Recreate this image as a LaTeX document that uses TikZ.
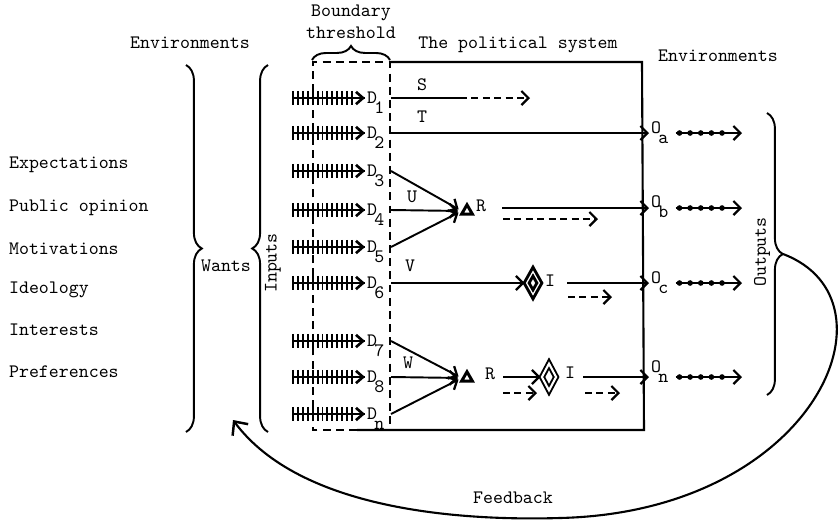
\documentclass[tikz,border=0pt]{standalone}
\usetikzlibrary{arrows.meta, decorations.pathreplacing, decorations.markings, shapes.geometric, positioning}

\newcommand{\lowsub}[2]{#1\kern-1.5pt\raisebox{-1.25ex}{#2}}

\begin{document}
\begin{tikzpicture}[x=0.02cm, y=-0.02cm,
  txt/.style={font=\ttfamily\fontsize{10.8}{12.5}\selectfont, inner sep=1pt},
  arr/.style={line width=1.1pt, -{Straight Barb[length=4pt, width=8pt, line width=1.3pt]}},
  darr/.style={arr, dash pattern=on 4pt off 2.5pt},
  hatched/.style={line width=1.5pt, -{Straight Barb[length=4pt, width=7pt, line width=1.5pt]},
    postaction={draw, arrows=-, line width=1.1pt, decorate,
      decoration={ticks, segment length=2.8pt, amplitude=4pt, post length=5pt}}},
  beads/.style={arr, postaction={decorate, decoration={markings,
    mark=between positions 0.06 and 0.72 step 0.16 with {\fill circle (1.6pt);}}}},
  curly/.style={line width=1.1pt, decorate, decoration={brace, amplitude=9pt}},
  bound/.style={line width=1.1pt, dash pattern=on 4.5pt off 3pt},
  tri/.style={regular polygon, regular polygon sides=3, draw, line width=1.7pt,
    minimum size=0.25cm, inner sep=0pt},
  idia/.style={diamond, draw, line width=1.1pt, double, double distance=1.2pt,
    inner sep=0pt, minimum width=0.3cm, minimum height=0.55cm}]
\useasboundingbox (0,0) rectangle (840,522);
% headings
\node[txt] (envl) at (190,43) {Environments};
\node[txt, align=center] (bthr) at (351,22) {Boundary\\threshold};
\node[txt] (polsys) at (518,45) {The political system};
\node[txt] (envr) at (718,56) {Environments};
% wants
\foreach \w/\y in {Expectations/165, Public opinion/208, Motivations/249,
  Ideology/290, Interests/330, Preferences/372}
  \node[txt, anchor=west] (want\y) at (7,\y) {\w};
\draw[curly] (186,65) -- (186,432);
\node[txt, anchor=west] (wants) at (199,266) {Wants};
\draw[curly] (268,432) -- (268,65);
\node[txt, rotate=90] (inputs) at (273,263) {Inputs};
% boundary and system
\draw[curly, decoration={amplitude=8pt}] (312,60) -- (390,60);
\draw[bound] (357,430) -- (313,430) -- (313,62) -- (390,62) -- (390,430);
\draw[line width=1.2pt] (390,62) -- (642,62) -- (644,430) -- (357,430);
% demands
\foreach \n/\y in {1/98, 2/133, 3/171, 4/210, 5/247, 6/283, 7/341, 8/377, n/414} {
  \node[txt, anchor=base west] (d\n) at (365,\y+5) {\lowsub{D}{\n}};
  \coordinate (h\n) at (293,\y);
  \coordinate (b\n) at (391,\y);
  \draw[hatched] (h\n) -- (h\n -| d\n.west);
}
% outputs
\node[txt, anchor=base west] (oa) at (649,133) {\lowsub{O}{a}};
\node[txt, anchor=base west] (ob) at (649,207) {\lowsub{O}{b}};
\node[txt, anchor=base west] (oc) at (649,283) {\lowsub{O}{c}};
\node[txt, anchor=base west] (on) at (649,372) {\lowsub{O}{n}};
\coordinate (ea) at (742,133);
\coordinate (eb) at (742,208);
\coordinate (ec) at (742,283);
\coordinate (en) at (742,377);
\draw[beads] (oa.base east) ++(5,0) -- (ea);
\draw[beads] (ob.base east) ++(5,1) -- (eb);
\draw[beads] (oc.base east) ++(5,0) -- (ec);
\draw[beads] (on.base east) ++(5,5) -- (en);
\draw[curly] (767,113) -- (767,395);
\node[txt, rotate=90] (outputs) at (762,252) {Outputs};
% S and T
\node[txt] (s) at (422,85) {S};
\coordinate (s1) at (460,98);
\coordinate (s2) at (530,98);
\draw[line width=1.1pt] (b1) -- (s1);
\draw[darr] (s1) -- (s2);
\node[txt] (t) at (422,117) {T};
\draw[arr] (b2) -- (b2 -| oa.west);
% U
\node[tri] (tri1) at (467,211) {};
\node[txt] (r1) at (481,206) {R};
\node[txt] (u) at (412,197) {U};
\foreach \k in {3,4,5}
  \draw[arr, shorten >=2pt] (b\k) -- (tri1.west);
\draw[arr, shorten <=0.28cm] (r1.east |- eb) -- (eb -| ob.west);
\draw[darr] (503,219) -- (598,219);
% V
\node[txt] (v) at (410,266) {V};
\node[idia, line width=1.7pt, double distance=0.7pt, minimum width=0.28cm,
  minimum height=0.48cm] (dia1) at (533,283) {};
\node[txt] (i1) at (550,281) {I};
\draw[arr] (b6) -- (dia1.west);
\draw[arr, shorten <=0.2cm] (i1.east |- oc.base) -- (oc.base west);
\draw[darr] (568,297) -- (612,297);
% W
\node[txt] (w) at (408,363) {W};
\node[tri] (tri2) at (467,378) {};
\node[txt] (r2) at (490,374) {R};
\foreach \k in {7,8,n}
  \draw[arr, shorten >=2pt] (b\k) -- (tri2.west);
\node[idia] (dia2) at (549,377) {};
\draw[arr] (r2.east |- dia2) ++(6,0) -- (dia2.west);
\draw[darr] (503,393) -- (537,393);
\node[txt] (i2) at (570,373) {I};
\draw[arr] (i2.east |- dia2) ++(6,0) -- (en -| on.west);
\draw[darr] (585,393) -- (620,393);
% feedback
\coordinate (fb0) at (783,254);
\coordinate (fbmid) at (560,518);
\coordinate (fbend) at (233,420);
\draw[line width=1.2pt, -{Straight Barb[length=6pt, width=11pt, line width=1.4pt]}]
  (fb0) .. controls (905,300) and (815,512) .. (fbmid)
  .. controls (460,521) and (300,510) .. (fbend);
\node[txt] (feedback) at (513,498) {Feedback};
\end{tikzpicture}
\end{document}
